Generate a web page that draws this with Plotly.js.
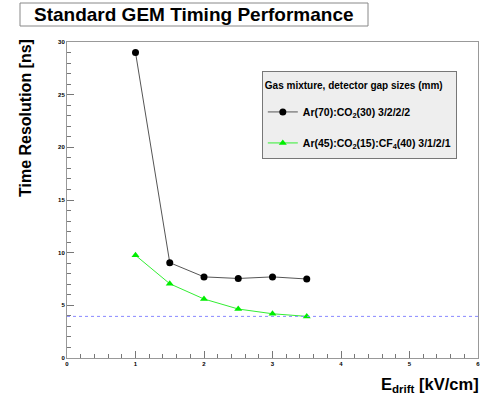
<!DOCTYPE html>
<html><head><meta charset="utf-8">
<script src="https://cdn.plot.ly/plotly-3.0.1.min.js"></script>
<style>html,body{margin:0;padding:0;background:#fff}#c{width:485px;height:397px}</style>
</head><body><div id="c"></div>
<script>
const edrift = [1, 1.5, 2, 2.5, 3, 3.5];
const arCo2 = [29.0, 9.05, 7.7, 7.55, 7.7, 7.5];
const arCo2Cf4 = [9.75, 7.05, 5.6, 4.65, 4.2, 3.95];
const refLevel = 3.95;
const name1 = 'Ar(70):CO<sub>2</sub>(30) 3/2/2/2';
const name2 = 'Ar(45):CO<sub>2</sub>(15):CF<sub>4</sub>(40) 3/1/2/1';

const traces = [
  {x: edrift, y: arCo2, name: name1, mode: 'lines+markers', legendgroup: 'a',
   line: {color: '#555555', width: 1}, marker: {color: '#000', size: 7, symbol: 'circle'}},
  {x: edrift, y: arCo2Cf4, name: name2, mode: 'lines+markers', legendgroup: 'b',
   line: {color: '#33ee33', width: 1}, marker: {color: '#00ee00', size: 7, symbol: 'triangle-up'}}
];
const layout = {
  width: 485, height: 397,
  margin: {l: 67, r: 7, t: 42, b: 39},
  paper_bgcolor: '#fff', plot_bgcolor: '#fff',
  font: {family: 'Liberation Sans, Arial, sans-serif', color: '#000'},
  showlegend: true,
  legend: {x: 0.474, y: 0.908, xanchor: 'left', yanchor: 'top',
    bgcolor: '#eeeeee', bordercolor: '#777', borderwidth: 1,
    font: {size: 10.5, family: 'Liberation Sans, Arial, sans-serif', weight: 'bold'},
    title: {text: ' <br><span style="font-size:10px"><b>Gas mixture, detector gap sizes (mm)</b></span><br> ', font: {size: 6.5}},
    tracegroupgap: 12},
  xaxis: {range: [0, 6], dtick: 1, tick0: 0, ticks: 'inside', ticklen: 7, tickcolor: '#777',
    showgrid: false, zeroline: false, showline: true, linecolor: '#999', mirror: true,
    tickfont: {size: 6, weight: 'bold'},
    minor: {dtick: 0.2, ticks: 'inside', ticklen: 4, tickcolor: '#777', showgrid: false}},
  yaxis: {range: [0, 30], dtick: 5, tick0: 0, ticks: 'inside', ticklen: 7, tickcolor: '#777',
    showgrid: false, zeroline: false, showline: true, linecolor: '#999', mirror: true,
    tickfont: {size: 6, weight: 'bold'},
    minor: {dtick: 1, ticks: 'inside', ticklen: 4, tickcolor: '#777', showgrid: false}},
  shapes: [
    {type: 'line', xref: 'paper', x0: 0, x1: 1, yref: 'y', y0: refLevel, y1: refLevel,
     line: {color: '#8888ff', width: 1, dash: 'dot'}},
    {type: 'rect', xref: 'paper', yref: 'paper', x0: (20-67)/411, x1: (368-67)/411,
     y0: (358-26)/316, y1: (358-3)/316, line: {color: '#888', width: 1}, fillcolor: 'rgba(0,0,0,0)'}
  ],
  annotations: [
    {text: '<b>Standard GEM Timing Performance</b>', xref: 'paper', yref: 'paper',
     x: (194-67)/411, y: (358-15)/316, xanchor: 'center', yanchor: 'middle', showarrow: false,
     font: {size: 19}},
    {text: '<b>Time Resolution [ns]</b>', xref: 'paper', yref: 'paper', textangle: -90,
     x: (26-67)/411, y: (358-118)/316, xanchor: 'center', yanchor: 'middle', showarrow: false,
     font: {size: 16}},
    {text: '<b>E<sub>drift</sub> [kV/cm]</b>', xref: 'paper', yref: 'paper',
     x: (481-67)/411, y: (358-385)/316, xanchor: 'right', yanchor: 'middle', showarrow: false,
     font: {size: 16.5}}
  ]
};
Plotly.newPlot('c', traces, layout, {displayModeBar: false, staticPlot: true});
</script></body></html>
